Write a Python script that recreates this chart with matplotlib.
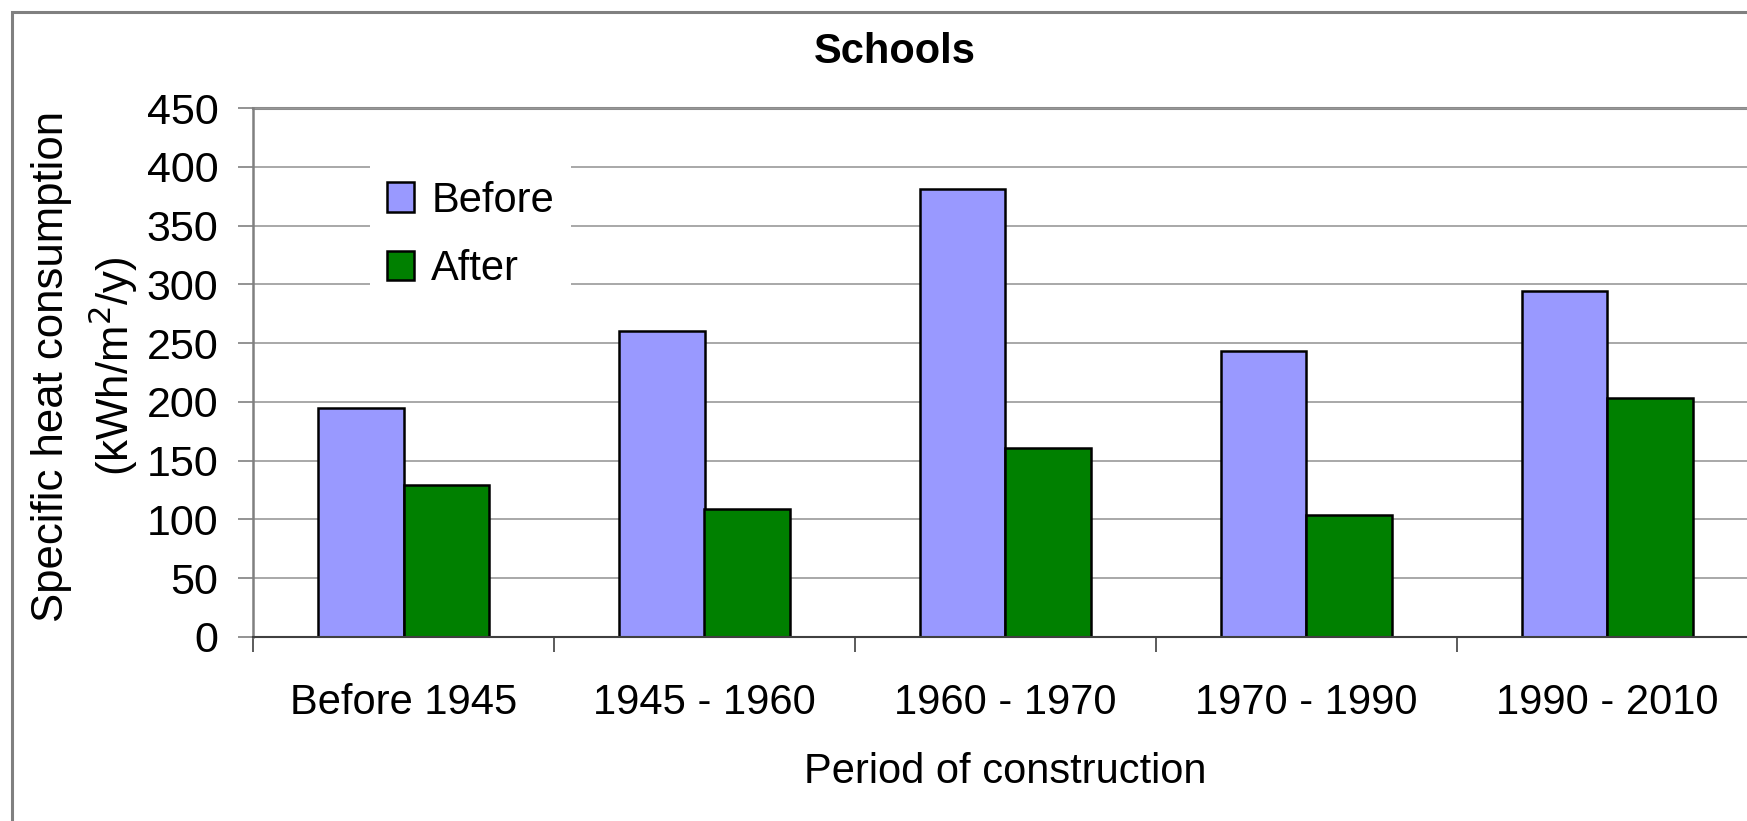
import matplotlib
matplotlib.use("Agg")
import matplotlib.pyplot as plt
import numpy as np
from matplotlib.patches import Rectangle

plt.rcParams["font.family"] = ["Liberation Sans", "DejaVu Sans"]

# data
periods = ["Before 1945", "1945 - 1960", "1960 - 1970", "1970 - 1990", "1990 - 2010"]
before = [195, 260, 381, 243, 294]
after = [129, 109, 161, 104, 203]
series_names = ["Before", "After"]
y_ticks = [0, 50, 100, 150, 200, 250, 300, 350, 400, 450]

W, H = 1747, 821
fig = plt.figure(figsize=(W / 100, H / 100), dpi=100)

# outer chart border (clipped on the right and bottom like the source)
fig.patches.append(Rectangle((11.5 / W, -0.1), 1.2, 1 - 12 / H + 0.1,
                             transform=fig.transFigure, fill=False,
                             edgecolor="#808080", linewidth=2.2))

# plot area: left 253px, right 1758px (beyond the image), y from 108 to 637
ax = fig.add_axes([253 / W, 1 - 637 / H, 1505 / W, 529 / H])

fs = 30
bw = 0.2857
x = np.arange(len(periods)) + 0.5
ax.bar(x - bw / 2, before, bw, color="#9999FF", edgecolor="black", linewidth=1.8,
       label=series_names[0], zorder=3)
ax.bar(x + bw / 2, after, bw, color="#008000", edgecolor="black", linewidth=1.8,
       label=series_names[1], zorder=3)

ax.set_xlim(0, len(periods))
ax.set_ylim(0, 450)
ax.set_yticks(y_ticks)
ax.set_yticklabels([str(v) for v in y_ticks], fontsize=31)
ax.set_xticks(x)
ax.set_xticklabels(periods, fontsize=fs)
ax.set_xticks(np.arange(len(periods) + 1), minor=True)
ax.tick_params(axis="x", which="major", length=0, pad=33)
ax.tick_params(axis="x", which="minor", length=11, width=1.2, color="#404040")
ax.tick_params(axis="y", length=11, width=1.2, color="#808080", pad=14)

ax.grid(axis="y", color="#999999", linewidth=1.2, zorder=0)
for s in ["top", "right"]:
    ax.spines[s].set_visible(False)
ax.spines["left"].set_color("#808080")
ax.spines["left"].set_linewidth(1.8)
ax.spines["bottom"].set_color("#404040")
ax.spines["bottom"].set_linewidth(1.5)
ax.spines["bottom"].set_zorder(4)
# slightly heavier top line at 450
ax.axhline(450, color="#8c8c8c", linewidth=2.2, zorder=1, clip_on=False)

# texts placed in figure pixel coordinates
fig.text(895 / W, 1 - 52 / H, "Schools", fontsize=30, fontweight="bold",
         ha="center", va="center")
fig.text(1005 / W, 1 - 772 / H, "Period of construction", fontsize=fs,
         ha="center", va="center")
fig.text(52 / W, 1 - 366 / H, "Specific heat consumption", fontsize=31.5,
         rotation=90, ha="center", va="center")
fig.text(113 / W, 1 - 366 / H, "(kWh/m$^2$/y)", fontsize=31.5,
         rotation=90, ha="center", va="center")

leg = ax.legend(loc="upper left", bbox_to_anchor=(370 / W, 1 - 164 / H),
                bbox_transform=fig.transFigure, fontsize=30, frameon=True,
                fancybox=False, framealpha=1, edgecolor="none", facecolor="white",
                borderaxespad=0, borderpad=0.4, handlelength=0.65,
                handleheight=0.7, handletextpad=0.42, labelspacing=0.68)
leg.set_zorder(5)

fig.savefig("out.png", dpi=100)
